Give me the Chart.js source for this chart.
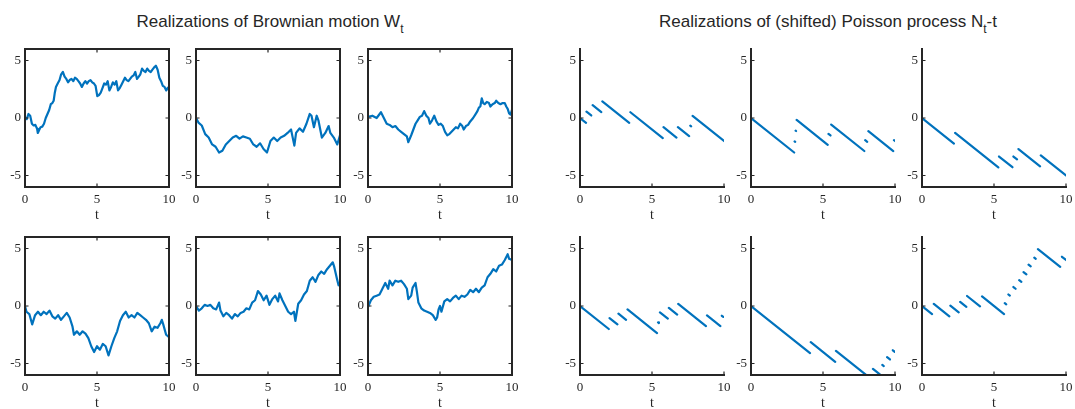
<!DOCTYPE html>
<html><head><meta charset="utf-8">
<script src="https://cdn.jsdelivr.net/npm/chart.js@4/dist/chart.umd.min.js"></script>
<style>
html,body{margin:0;padding:0;background:#fff}
body{width:1075px;height:409px;overflow:hidden;position:relative;font-family:"Liberation Sans",Arial,sans-serif}
.ttl{position:absolute;width:600px;text-align:center;font-size:17px;line-height:17px;color:#262626;white-space:nowrap}
.ttl sub{font-size:12px;vertical-align:-6px;line-height:0}
canvas{position:absolute}
</style></head><body>
<div class="ttl" style="left:-30px;top:13px">Realizations of Brownian motion W<sub>t</sub></div>
<div class="ttl" style="left:528px;top:13px">Realizations of (shifted) Poisson process N<sub>t</sub>-t</div>
<script>
// ---- data ----
const xTickVals = [0, 5, 10];
const xTickLabels = ['0', '5', '10'];
const yTickVals = [-5, 0, 5];
const yTickLabels = ['-5', '0', '5'];
const xLabel = 't';

// Brownian paths: [t, W_t]
const bm1 = [[0,0],[0.12,-0.1],[0.24,0.35],[0.36,0.2],[0.48,-0.5],[0.6,-0.65],[0.72,-0.6],[0.84,-0.95],[0.89,-1.3],[1.0,-1.0],[1.08,-0.8],[1.2,-0.75],[1.32,-0.5],[1.44,0],[1.56,0.35],[1.68,0.7],[1.79,1.2],[1.9,1.3],[1.99,1.5],[2.07,2.2],[2.15,2.7],[2.27,3.0],[2.4,3.3],[2.51,3.8],[2.63,4.0],[2.75,3.6],[2.87,3.4],[2.99,3.1],[3.1,3.3],[3.23,3.4],[3.35,3.2],[3.47,3.5],[3.59,3.4],[3.71,3.2],[3.83,3.0],[3.95,2.7],[4.07,3.0],[4.19,3.2],[4.31,3.0],[4.43,3.2],[4.55,3.3],[4.67,3.1],[4.79,3.0],[4.9,2.8],[5.02,1.9],[5.14,2.0],[5.26,2.2],[5.38,2.6],[5.5,3.0],[5.62,2.9],[5.74,3.2],[5.86,2.4],[5.98,2.7],[6.1,3.1],[6.22,2.9],[6.34,3.2],[6.46,2.4],[6.58,2.6],[6.7,2.9],[6.82,3.2],[6.94,3.5],[7.06,3.3],[7.18,3.2],[7.3,3.4],[7.42,3.6],[7.54,3.7],[7.66,4.0],[7.78,3.4],[7.9,3.6],[8.01,3.8],[8.13,4.3],[8.25,4.1],[8.37,4.0],[8.49,4.3],[8.61,4.1],[8.73,4.0],[8.85,4.2],[8.97,4.4],[9.09,4.55],[9.21,4.2],[9.33,3.5],[9.45,3.2],[9.57,2.8],[9.69,2.7],[9.81,2.4],[9.9,2.6],[10,2.7]];
const bm2 = [[0,0],[0.17,-0.4],[0.4,-0.65],[0.64,-1.4],[0.88,-1.7],[1.12,-2.3],[1.36,-2.5],[1.6,-3.0],[1.83,-2.85],[2.07,-2.3],[2.31,-2.0],[2.55,-1.7],[2.79,-1.55],[3.02,-1.8],[3.26,-1.6],[3.5,-1.7],[3.74,-1.8],[3.98,-2.3],[4.21,-2.5],[4.45,-2.2],[4.69,-2.7],[4.93,-3.0],[5.17,-2.0],[5.4,-1.7],[5.64,-2.0],[5.88,-1.7],[6.12,-1.55],[6.36,-1.3],[6.6,-1.0],[6.83,-2.4],[6.95,-1.3],[7.19,-0.9],[7.43,-1.2],[7.67,-0.5],[7.9,0.35],[8.02,0.2],[8.19,-0.8],[8.38,0.2],[8.5,-0.2],[8.74,-1.7],[8.98,-1.3],[9.21,-0.7],[9.33,-1.3],[9.57,-1.7],[9.81,-2.3],[10,-1.5]];
const bm3 = [[0,0.1],[0.3,0.2],[0.6,0.0],[0.9,0.5],[1.1,0.0],[1.3,-0.5],[1.5,-0.6],[1.7,-0.8],[1.9,-0.7],[2.1,-1.0],[2.3,-1.2],[2.5,-1.4],[2.7,-1.6],[2.8,-2.1],[3.0,-1.5],[3.15,-1.0],[3.3,-0.5],[3.45,-0.2],[3.6,0.1],[3.75,0.2],[3.9,0.6],[4.05,0.2],[4.2,0.0],[4.3,-0.5],[4.45,-0.2],[4.6,0.2],[4.75,-0.3],[4.9,-0.6],[5.05,-0.5],[5.2,-0.7],[5.35,-1.2],[5.5,-1.5],[5.65,-1.4],[5.8,-1.2],[5.95,-1.0],[6.1,-0.8],[6.25,-0.9],[6.4,-0.5],[6.55,-0.7],[6.65,-1.0],[6.8,-0.7],[6.95,-0.6],[7.1,-0.3],[7.3,0.0],[7.45,0.3],[7.6,0.6],[7.7,0.9],[7.8,1.0],[7.9,1.7],[8.0,1.3],[8.1,1.2],[8.25,1.4],[8.4,1.3],[8.5,1.0],[8.65,1.2],[8.8,1.3],[8.9,1.5],[9.05,1.3],[9.2,1.2],[9.35,1.3],[9.5,1.3],[9.6,1.0],[9.7,0.8],[9.8,0.4],[9.9,0.3],[10,0.7]];
const bm4 = [[0,0],[0.1,-0.5],[0.3,-0.7],[0.5,-1.6],[0.7,-0.8],[0.9,-0.5],[1.1,-0.8],[1.3,-0.5],[1.5,-0.7],[1.7,-0.4],[1.9,-0.9],[2.1,-1.1],[2.3,-0.8],[2.5,-1.2],[2.7,-0.9],[2.9,-0.6],[3.1,-1.0],[3.3,-1.8],[3.4,-2.5],[3.6,-2.2],[3.8,-2.5],[4.0,-2.2],[4.2,-2.4],[4.4,-2.8],[4.6,-3.5],[4.8,-4.0],[5.0,-3.5],[5.2,-3.8],[5.4,-3.3],[5.6,-3.5],[5.8,-4.3],[6.0,-3.5],[6.2,-2.8],[6.4,-2.2],[6.6,-1.3],[6.8,-0.8],[7.0,-0.5],[7.2,-1.0],[7.4,-0.8],[7.6,-1.0],[7.8,-0.6],[8.0,-0.8],[8.2,-1.0],[8.4,-1.2],[8.6,-1.5],[8.8,-2.2],[9.0,-1.8],[9.2,-1.9],[9.4,-1.5],[9.5,-1.2],[9.6,-1.6],[9.8,-2.5],[10,-2.7]];
const bm5 = [[0,0],[0.2,-0.4],[0.4,-0.2],[0.6,0.1],[0.8,0.0],[1.0,0.1],[1.2,-0.2],[1.4,-0.3],[1.6,0.3],[1.7,-0.4],[1.9,-0.9],[2.1,-0.6],[2.3,-0.8],[2.5,-1.1],[2.7,-0.7],[2.9,-0.9],[3.1,-0.6],[3.3,-0.5],[3.5,-0.2],[3.7,-0.3],[3.9,0.3],[4.1,0.5],[4.3,1.3],[4.5,1.0],[4.7,0.5],[4.9,0.9],[5.1,0.1],[5.3,0.6],[5.5,0.9],[5.7,0.4],[5.8,1.1],[6.0,0.5],[6.2,0.0],[6.4,-0.5],[6.6,-0.7],[6.8,-0.5],[6.9,-1.3],[7.1,0.2],[7.3,0.5],[7.5,1.0],[7.7,1.3],[7.9,2.2],[8.1,2.5],[8.3,2.1],[8.5,2.7],[8.7,3.0],[8.9,2.8],[9.1,3.2],[9.3,3.5],[9.5,3.8],[9.6,3.4],[9.8,2.3],[9.9,1.8],[10,2.0]];
const bm6 = [[0,-0.1],[0.2,0.5],[0.4,0.8],[0.6,0.9],[0.8,1.0],[1.0,1.5],[1.2,2.0],[1.4,1.5],[1.5,2.2],[1.7,1.8],[1.9,2.2],[2.1,2.1],[2.3,2.2],[2.5,1.9],[2.7,1.5],[2.8,0.6],[3.0,0.9],[3.1,1.6],[3.3,2.0],[3.4,1.2],[3.5,0.3],[3.7,-0.2],[3.9,-0.4],[4.1,-0.5],[4.3,-0.6],[4.5,-0.8],[4.7,-1.2],[4.8,-1.0],[4.9,-0.3],[5.0,0.0],[5.1,-0.5],[5.3,0.4],[5.5,0.6],[5.7,0.4],[5.9,0.7],[6.1,0.9],[6.3,0.6],[6.5,0.9],[6.7,0.8],[6.9,1.0],[7.1,1.4],[7.3,1.2],[7.5,1.5],[7.7,1.2],[7.9,1.6],[8.1,1.8],[8.3,2.5],[8.5,2.8],[8.7,3.2],[8.9,3.0],[9.1,3.5],[9.3,3.6],[9.5,4.0],[9.7,4.5],[9.8,4.1],[10,4.0]];

// Poisson paths: visible segments [start t, end t]; segment k has N_t = k
const pois1 = [[0,0.42],[0.45,0.78],[0.88,1.48],[1.55,3.42],[3.5,5.75],[5.8,6.7],[6.8,7.58],[7.66,7.72],[7.82,10]];
const pois2 = [[0,3.0],[3.03,3.07],[3.1,3.13],[3.17,5.33],[5.38,5.52],[5.57,7.87],[7.93,8.07],[8.15,9.88],[9.93,10]];
const pois3 = [[0,2.22],[2.3,5.3],[5.35,6.28],[6.35,6.6],[6.7,8.2],[8.25,10]];
const pois4 = [[0,2.0],[2.05,2.6],[2.67,3.2],[3.3,5.35],[5.42,5.48],[5.55,6.1],[6.17,6.75],[6.82,8.75],[8.82,9.75],[9.85,9.95]];
const pois5 = [[0,4.1],[4.15,5.85],[5.9,8.4],[8.47,8.95],[9.12,9.22],[9.45,9.65],[9.85,9.98]];
const pois6 = [[0,0.7],[0.82,1.9],[1.97,2.55],[2.65,3.08],[3.13,4.03],[4.17,5.7],[5.75,5.85],[6.0,6.1],[6.35,6.5],[6.75,6.9],[7.05,7.25],[7.4,7.55],[7.8,7.9],[8.05,9.6],[9.72,10]];

// ---- layout / style ----
const LINE = '#0072BD', AX = '#262626';
const PW = 144, PH = 138;
const layout = [
  {d: bm1, kind: 'bm', L: 25,  T: 49},
  {d: bm2, kind: 'bm', L: 196, T: 49},
  {d: bm3, kind: 'bm', L: 368, T: 49},
  {d: bm4, kind: 'bm', L: 25,  T: 237},
  {d: bm5, kind: 'bm', L: 196, T: 237},
  {d: bm6, kind: 'bm', L: 368, T: 237},
  {d: pois1, kind: 'pois', L: 580, T: 49},
  {d: pois2, kind: 'pois', L: 751, T: 49},
  {d: pois3, kind: 'pois', L: 922, T: 49},
  {d: pois4, kind: 'pois', L: 580, T: 237},
  {d: pois5, kind: 'pois', L: 751, T: 237},
  {d: pois6, kind: 'pois', L: 922, T: 237}
];
const YW = 35, PT = 12, PR = 16, XH = 40;

const axesPlugin = {
  id: 'matlabAxes',
  afterDatasetsDraw(chart, args, opts) {
    const {ctx, chartArea: a, scales: {x, y}} = chart;
    ctx.save();
    ctx.strokeStyle = AX;
    ctx.lineWidth = 2;
    ctx.lineCap = 'square';
    ctx.beginPath();
    ctx.moveTo(a.left, a.top);
    ctx.lineTo(a.left, a.bottom);
    ctx.lineTo(a.right, a.bottom);
    if (opts.box) { ctx.lineTo(a.right, a.top); ctx.closePath(); }
    ctx.stroke();
    ctx.lineWidth = 1.2;
    ctx.lineCap = 'butt';
    const TL = 3.5;
    ctx.beginPath();
    x.ticks.forEach(t => {
      const px = x.getPixelForValue(t.value);
      ctx.moveTo(px, a.bottom); ctx.lineTo(px, a.bottom - TL);
      if (opts.box) { ctx.moveTo(px, a.top); ctx.lineTo(px, a.top + TL); }
    });
    y.ticks.forEach(t => {
      const py = y.getPixelForValue(t.value);
      ctx.moveTo(a.left, py); ctx.lineTo(a.left + TL, py);
      if (opts.box) { ctx.moveTo(a.right, py); ctx.lineTo(a.right - TL, py); }
    });
    ctx.stroke();
    ctx.restore();
  }
};

function poisData(segs) {
  const out = [];
  segs.forEach((s, k) => {
    out.push({x: s[0], y: k - s[0]}, {x: s[1], y: k - s[1]}, {x: s[1], y: null});
  });
  return out;
}
function bmData(arr) { return arr.map(p => ({x: p[0], y: p[1]})); }

const tickFont = {family: '"Liberation Serif","Times New Roman",serif', size: 13};
const titleFont = {family: '"Liberation Serif","Times New Roman",serif', size: 14};

layout.forEach((p, i) => {
  const cv = document.createElement('canvas');
  const W = YW + PW + PR, H = PT + PH + XH;
  cv.width = W; cv.height = H;
  cv.style.left = (p.L - YW) + 'px';
  cv.style.top = (p.T - PT) + 'px';
  cv.style.width = W + 'px'; cv.style.height = H + 'px';
  document.body.appendChild(cv);
  new Chart(cv, {
    type: 'line',
    data: {datasets: [{
      data: p.kind === 'bm' ? bmData(p.d) : poisData(p.d),
      borderColor: LINE, borderWidth: 2.2, pointRadius: 0, tension: 0,
      spanGaps: false, fill: false,
      borderCapStyle: p.kind === 'bm' ? 'butt' : 'round', borderJoinStyle: 'round'
    }]},
    options: {
      responsive: false, animation: false, events: [], devicePixelRatio: 1,
      layout: {padding: {left: 0, top: PT, right: PR, bottom: 0}},
      plugins: {legend: {display: false}, tooltip: {enabled: false}, matlabAxes: {box: p.kind === 'bm'}},
      scales: {
        x: {
          type: 'linear', min: 0, max: 10,
          afterBuildTicks: s => { s.ticks = xTickVals.map(v => ({value: v})); },
          afterFit: s => { s.height = XH; },
          grid: {display: false, drawTicks: false}, border: {display: false},
          ticks: {padding: 5, font: tickFont, color: AX, maxRotation: 0, autoSkip: false,
                  callback: (v, idx) => xTickLabels[idx]},
          title: {display: true, text: xLabel, font: titleFont, color: AX, padding: {top: 0, bottom: 3}}
        },
        y: {
          type: 'linear', min: -6, max: 6,
          afterBuildTicks: s => { s.ticks = yTickVals.map(v => ({value: v})); },
          afterFit: s => { s.width = YW; },
          grid: {display: false, drawTicks: false}, border: {display: false},
          ticks: {padding: 4, font: tickFont, color: AX, autoSkip: false,
                  callback: (v, idx) => yTickLabels[idx]}
        }
      }
    },
    plugins: [axesPlugin]
  });
});
</script>
</body></html>
